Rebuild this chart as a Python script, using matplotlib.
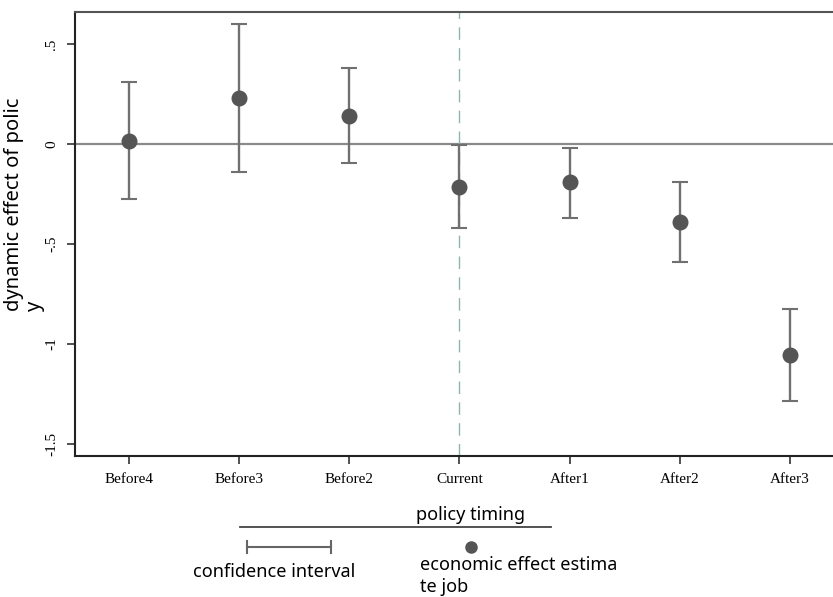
import matplotlib
matplotlib.use("Agg")
import matplotlib.pyplot as plt
from matplotlib.lines import Line2D

# event-study estimates
periods = ["Before4", "Before3", "Before2", "Current", "After1", "After2", "After3"]
estimate = [0.015, 0.23, 0.14, -0.213, -0.19, -0.39, -1.055]
ci_low = [-0.275, -0.14, -0.095, -0.42, -0.37, -0.59, -1.285]
ci_high = [0.31, 0.60, 0.38, -0.005, -0.02, -0.19, -0.825]
yticks = [0.5, 0, -0.5, -1, -1.5]
ytick_labels = [".5", "0", "-.5", "-1", "-1.5"]

fig = plt.figure(figsize=(8.33, 5.97), dpi=100, facecolor="w")
ax = fig.add_axes([0.090, 0.236, 0.91, 0.744])

x = list(range(len(periods)))
err_lo = [e - l for e, l in zip(estimate, ci_low)]
err_hi = [h - e for e, h in zip(estimate, ci_high)]

ax.axhline(0, color="#8a8a8a", lw=1.6, zorder=1)
ax.axvline(periods.index("Current"), color="#8fb3b0", lw=1.0,
           ls=(0, (9, 6)), zorder=1)
ax.errorbar(x, estimate, yerr=[err_lo, err_hi], fmt="o", color="#707070",
            ecolor="#707070", elinewidth=1.7, capsize=6, capthick=1.5,
            markersize=10.5, markerfacecolor="#555555",
            markeredgecolor="#555555", zorder=3)

ax.set_xlim(-0.49, 6.39)
ax.set_ylim(-1.56, 0.66)
ax.set_xticks(x)
ax.set_xticklabels(periods, family="Liberation Serif", fontsize=11)
ax.set_yticks(yticks)
ax.set_yticklabels(ytick_labels, family="Liberation Serif", fontsize=11,
                   rotation=90, va="center")
ax.tick_params(axis="both", length=6, width=1.2, color="#333333", pad=6)
ax.spines["right"].set_visible(False)
for s in ["left", "bottom", "top"]:
    ax.spines[s].set_linewidth(1.5)
    ax.spines[s].set_color("#222222")
ax.spines["top"].set_color("#555555")

fig.text(0.029, 0.657, "dynamic effect of polic\ny", rotation=90,
         family="Noto Sans", fontsize=14.5, ha="center", va="center",
         multialignment="left", linespacing=1.05)

# legend-like annotation below the axes
fig.text(0.565, 0.137, "policy timing", family="Noto Sans", fontsize=13,
         ha="center", va="center")
fig.add_artist(Line2D([0.288, 0.661], [0.117, 0.117], transform=fig.transFigure,
                      color="#444444", lw=1.3))
fig.add_artist(Line2D([0.297, 0.397], [0.084, 0.084], transform=fig.transFigure,
                      color="#666666", lw=1.5))
for xc in [0.297, 0.397]:
    fig.add_artist(Line2D([xc, xc], [0.074, 0.094], transform=fig.transFigure,
                          color="#666666", lw=1.5))
fig.add_artist(Line2D([0.565], [0.084], transform=fig.transFigure, marker="o",
                      markersize=8, color="#555555", lw=0))
fig.text(0.232, 0.042, "confidence interval", family="Noto Sans", fontsize=13,
         ha="left", va="center")
fig.text(0.504, 0.035, "economic effect estima\nte job", family="Noto Sans",
         fontsize=13, ha="left", va="center", linespacing=1.25)

fig.savefig("out.png", dpi=100, facecolor="w")
